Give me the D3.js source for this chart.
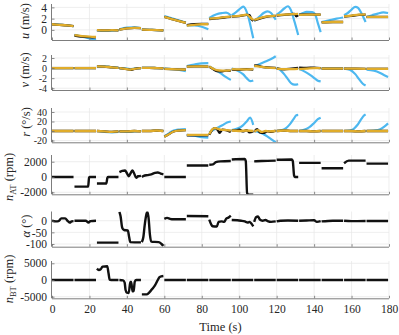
<!DOCTYPE html>
<html>
<head>
<meta charset="utf-8">
<script src="https://cdn.jsdelivr.net/npm/d3@7"></script>
<style>
  body { margin: 0; background: #fff; }
  svg { display: block; }
</style>
</head>
<body>
<div id="chart"></div>
<script>
// Six stacked time-series panels (u, v, r, n_AT, alpha, n_BT) over 0-180 s.
// Each series is a list of segments; each segment is a list of [time, value].

const timeTicks = [0, 20, 40, 60, 80, 100, 120, 140, 160, 180];

const uTicks = [0, 2, 4];
const vTicks = [-4, -2, 0, 2];
const rTicks = [-20, 0, 20, 40];
const nAtTicks = [-2000, 0, 2000];
const alphaTicks = [-100, -50, 0];
const nBtTicks = [-5000, 0, 5000];

// surge speed u (m/s)
const uBlue = [
  [[0,1.0],[4,0.95],[8,0.8],[11.5,0.65]],
  [[12,-0.9],[16,-1.2],[20,-1.5],[23.5,-1.8]],
  [[24,-0.1],[28,-0.2],[32,-0.15],[35.5,-0.05]],
  [[36,0.1],[40,0.4],[44,0.45],[47.5,0.3]],
  [[48,0.05],[52,0.0],[56,-0.05],[59.5,-0.1]],
  [[60,2.45],[64,2.05],[68,1.65],[71.5,1.3]],
  [[72,0.8],[76,0.8],[80,0.55],[83.5,0.1]],
  [[84,2.1],[86,2.5],[89,2.9],[91,3.0],[93,3.05],[95.5,2.6]],
  [[96,2.6],[98.5,3.2],[101,3.9],[102.2,4.15],[103.5,3.6],[105.5,1.5],[106.7,-0.3],[107.5,-1.5]],
  [[108,1.6],[111,2.4],[113,3.0],[115,3.3],[117,3.0],[118.5,2.3],[119.5,1.8]],
  [[120,2.7],[122,3.2],[124,3.8],[126,4.2],[127.5,3.6],[129.5,1.5],[131.5,-0.9]],
  [[132,2.7],[134,3.0],[136,3.2],[139,3.15],[140.5,2.8],[142,1.2],[143.5,-0.4]],
  [[144,1.4],[148,1.7],[152,2.0],[155.5,2.2]],
  [[156,2.6],[158,3.0],[160,3.6],[162,4.1],[163.5,3.9],[165.5,2.8],[167.5,1.4]],
  [[168,2.3],[171,2.6],[174,2.9],[177,3.1],[179.5,3.0]]
];
const uBlack = [
  [[0,1.0],[4,0.9],[8,0.8],[11.5,0.65]],
  [[12,-1.0],[16,-1.2],[20,-1.3],[23.5,-1.35]],
  [[24,-0.05],[28,-0.1],[32,-0.05],[35.5,-0.1]],
  [[36,0.05],[40,0.25],[44,0.35],[47.5,0.3]],
  [[48,0.05],[52,0.0],[56,-0.05],[59.5,-0.1]],
  [[60,2.3],[64,1.9],[68,1.55],[71.5,1.25]],
  [[72,0.85],[76,1.0],[80,1.05],[83.5,1.05]],
  [[84,1.9],[88,2.05],[92,2.2],[95.5,2.3]],
  [[96,2.35],[100,2.45],[104,2.65],[105.5,2.6],[106.5,1.9],[107.5,1.6]],
  [[108,1.7],[111,2.0],[115,2.35],[119.5,2.5]],
  [[120,2.55],[124,2.65],[128,2.8],[129.5,2.85],[130.5,2.4],[131.5,2.6]],
  [[132,2.7],[136,2.75],[143.5,2.7]],
  [[144,1.35],[150,1.4],[155.5,1.4]],
  [[156,2.35],[160,2.5],[164,2.65],[167.5,2.7]],
  [[168,2.3],[174,2.3],[179.5,2.3]]
];
const uYellow = [
  [[0,1.0],[4,0.9],[8,0.8],[11.5,0.65]],
  [[12,-0.95],[16,-1.1],[20,-1.2],[23.5,-1.25]],
  [[24,-0.05],[28,-0.1],[32,-0.05],[35.5,-0.1]],
  [[36,0.05],[40,0.25],[44,0.35],[47.5,0.3]],
  [[48,0.05],[52,0.0],[56,-0.05],[59.5,-0.1]],
  [[60,2.3],[64,1.9],[68,1.55],[71.5,1.25]],
  [[72,0.75],[76,0.9],[80,1.0],[83.5,1.0]],
  [[84,2.0],[88,2.1],[92,2.25],[95.5,2.35]],
  [[96,2.4],[100,2.5],[104,2.7],[106,2.2],[107.5,1.75]],
  [[108,1.75],[111,2.1],[115,2.4],[119.5,2.55]],
  [[120,2.6],[124,2.7],[128,2.8],[131.5,2.85]],
  [[132,2.65],[136,2.7],[140,2.7],[143.5,2.7]],
  [[144,1.35],[150,1.4],[155.5,1.4]],
  [[156,2.4],[160,2.55],[164,2.7],[167.5,2.75]],
  [[168,2.3],[174,2.3],[179.5,2.3]]
];

// sway speed v (m/s)
const vBlue = [
  [[0,0],[11.5,0]],
  [[12,0],[23.5,0]],
  [[24,0.3],[28,0.35],[32,0.2],[35.5,0.05]],
  [[36,0],[40,-0.1],[42,-0.2],[44,-0.1],[47.5,0]],
  [[48,0.05],[52,0.05],[56,0],[59.5,0]],
  [[60,-0.1],[64,-0.2],[68,-0.35],[71.5,-0.6]],
  [[72,0.4],[76,0.7],[80,0.95],[83.5,1.0]],
  [[84,0.3],[87,-0.3],[90,-1.0],[93,-1.8],[95.5,-2.35]],
  [[96,-0.1],[99,-0.5],[102,-1.2],[104,-2.0],[106,-2.6],[107.5,-2.45]],
  [[108,0.3],[111,0.8],[114,1.3],[117,1.8],[119.5,2.35]],
  [[120,0.0],[122,-0.4],[124,-1.2],[126,-2.2],[128,-3.1],[129.5,-3.3],[131.5,-3.2]],
  [[132,-0.2],[135,-0.7],[138,-1.4],[140.5,-2.1],[142,-2.5],[143.5,-2.65]],
  [[144,-0.1],[150,-0.1],[155.5,-0.1]],
  [[156,-0.1],[159,-0.3],[162,-1.2],[164,-2.2],[166,-3.1],[167.5,-3.45]],
  [[168,-0.3],[172,-0.5],[175,-0.9],[177.5,-1.4],[179.5,-1.75]]
];
const vBlack = [
  [[0,0],[11.5,0]],
  [[12,0],[23.5,0]],
  [[24,0.35],[28,0.3],[32,0.15],[35.5,0.05]],
  [[36,0],[40,-0.2],[42,-0.35],[44,-0.15],[47.5,0]],
  [[48,0.05],[52,0.05],[56,0],[59.5,-0.05]],
  [[60,-0.15],[64,-0.2],[68,-0.25],[71.5,-0.3]],
  [[72,0.3],[76,0.35],[80,0.35],[83.5,0.3]],
  [[84,0.3],[86,-0.2],[88,-0.6],[91,-0.65],[93,-0.5],[95.5,-0.55]],
  [[96,-0.3],[100,-0.35],[104,-0.2],[107.5,-0.3]],
  [[108,0.55],[110,0.5],[112,0.25],[115,0.15],[119.5,0.05]],
  [[120,-0.05],[124,-0.25],[128,-0.1],[131.5,0.05]],
  [[132,0.1],[136,0.05],[140,0.1],[143.5,0.0]],
  [[144,-0.1],[150,-0.1],[155.5,-0.1]],
  [[156,-0.1],[162,-0.1],[167.5,-0.15]],
  [[168,-0.15],[174,-0.15],[179.5,-0.15]]
];
const vYellow = [
  [[0,0],[11.5,0]],
  [[12,0],[23.5,0]],
  [[24,0.35],[28,0.3],[32,0.15],[35.5,0.05]],
  [[36,0],[40,-0.2],[42,-0.3],[44,-0.15],[47.5,0]],
  [[48,0.05],[52,0.05],[56,0],[59.5,-0.05]],
  [[60,-0.15],[64,-0.2],[68,-0.25],[71.5,-0.3]],
  [[72,0.3],[76,0.35],[80,0.35],[83.5,0.3]],
  [[84,0.3],[86,-0.1],[88,-0.4],[91,-0.5],[95.5,-0.45]],
  [[96,-0.2],[100,-0.25],[104,-0.25],[107.5,-0.2]],
  [[108,0.45],[111,0.3],[115,0.1],[119.5,0.0]],
  [[120,-0.1],[124,-0.2],[128,-0.2],[131.5,-0.15]],
  [[132,-0.2],[136,-0.1],[140,0],[143.5,0]],
  [[144,-0.1],[150,-0.1],[155.5,-0.1]],
  [[156,-0.1],[162,-0.1],[167.5,-0.15]],
  [[168,-0.15],[174,-0.15],[179.5,-0.15]]
];

// yaw rate r (deg/s)
const rBlue = [
  [[0,0],[11.5,0]],
  [[12,0],[23.5,0]],
  [[24,0],[28,-2],[32,-3],[35.5,-2]],
  [[36,-1],[40,-2],[44,-1],[47.5,0]],
  [[48,0],[52,0],[56,1],[59.5,0]],
  [[60,-11],[62,-6],[65,1],[68,3],[71.5,4]],
  [[72,-8],[76,-10],[80,-13],[83.5,-14]],
  [[84,-4],[86,2],[88,6],[91,12],[93.5,18],[95.5,20]],
  [[96,2],[99,5],[102,12],[104,20],[105.8,28],[107.5,13]],
  [[108,0],[111,-3],[114,-9],[117,-17],[119.5,-24]],
  [[120,0],[123,2],[125,6],[127,14],[129,25],[130.5,33],[131.5,34]],
  [[132,0],[135,3],[137.5,8],[140,17],[142,25],[143.5,28]],
  [[144,0],[155.5,0]],
  [[156,0],[159,1],[161,4],[163,12],[165,24],[166.5,32],[167.5,35]],
  [[168,0],[172,1],[175,3],[177.5,9],[179.5,16]]
];
const rBlack = [
  [[0,0],[11.5,0]],
  [[12,0],[23.5,0]],
  [[24,0],[28,-1],[32,-2],[35.5,-1]],
  [[36,-1],[40,-1],[44,0],[47.5,-1]],
  [[48,0],[52,0],[56,1],[59.5,0]],
  [[60,-12],[62,-8],[65,-1],[68,1],[71.5,2]],
  [[72,-9],[76,-9],[80,-9],[83.5,-9]],
  [[84,-8],[85.5,2],[87,6],[88.5,2],[89.5,-4],[91,3],[93,2],[95.5,-2]],
  [[96,2],[98,1],[100,3],[102,-1],[104,2],[105.5,-3],[107.5,-1]],
  [[108,-2],[109.5,4],[111,-3],[113,-4],[115,-1],[117,-2],[119.5,1]],
  [[120,0],[124,1],[128,0],[131.5,0]],
  [[132,0],[136,0],[140,-1],[143.5,0]],
  [[144,0],[155.5,0]],
  [[156,0],[160,0],[164,-1],[167.5,0]],
  [[168,0],[179.5,0]]
];
const rYellow = [
  [[0,0],[11.5,0]],
  [[12,0],[23.5,0]],
  [[24,0],[28,-1],[32,-2],[35.5,-1]],
  [[36,-1],[40,-1],[44,0],[47.5,-1]],
  [[48,0],[52,0],[56,1],[59.5,0]],
  [[60,-12],[62,-8],[65,-1],[68,1],[71.5,2]],
  [[72,-8],[76,-8],[80,-8],[83.5,-8]],
  [[84,-7],[85.5,3],[87,6],[90,3],[93,2],[95.5,1]],
  [[96,1],[100,0],[104,1],[107.5,0]],
  [[108,-1],[110,2],[112,-2],[114,0],[116,-1],[119.5,0]],
  [[120,0],[124,1],[128,0],[131.5,0]],
  [[132,0],[136,0],[140,-1],[143.5,0]],
  [[144,0],[155.5,0]],
  [[156,0],[160,0],[164,-1],[167.5,0]],
  [[168,0],[179.5,0]]
];

// aft thruster speed n_AT (rpm)
const nAt = [
  [[0,0],[11.5,0]],
  [[12,-1250],[19.3,-1250],[19.8,-100],[20.2,0],[23.5,0]],
  [[24,-850],[29,-850],[29.6,-100],[30,0],[35.5,0]],
  [[36,650],[37.5,800],[39,850],[40,500],[41,100],[42,500],[43,850],[44,400],[45,-100],[46,100],[47.5,150]],
  [[48,0],[49,150],[51,250],[53,350],[55,550],[56.5,600],[58,450],[59.5,350]],
  [[60,0],[71.5,0]],
  [[72,1500],[83.5,1500]],
  [[84,1600],[86,1650],[87.5,1950],[90,2050],[95.5,2100]],
  [[96,2300],[103,2350],[103.5,2100],[104.2,-2100],[105,-2300],[107.5,-2300]],
  [[108,2050],[112,2100],[119.5,2150]],
  [[120,2250],[128,2300],[128.6,2100],[129.3,200],[129.7,0],[131.5,0]],
  [[132,1850],[143.5,1850]],
  [[144,1150],[155.5,1150]],
  [[156,1800],[158.5,2150],[167.5,2150]],
  [[168,1750],[179.5,1750]]
];

// aft thruster angle alpha (deg)
const alpha = [
  [[0,0],[2,-3],[3.5,-2],[5,10],[7,10],[8.5,-2],[9.5,-8],[10.5,-3],[11.5,-2]],
  [[12,0],[18,0],[19.5,-8],[20.5,-2],[23.5,0]],
  [[24,-94],[35.5,-94]],
  [[36,38],[36.6,20],[37.5,-30],[38.5,-40],[40.5,-42],[41.2,-70],[41.8,-92],[47.5,-93]],
  [[48,-92],[48.8,-70],[49.5,-20],[50.5,30],[51,38],[51.6,10],[52.3,-60],[53,-90],[57,-92],[58.5,-100],[59.5,-108]],
  [[60,8],[61.5,12],[63,8],[65,6],[71.5,6]],
  [[72,20],[83.5,19]],
  [[84,5],[85,-15],[85.8,-24],[88,-25],[89,-5],[90.5,-3],[92,-5],[93,8],[94.5,15],[95.5,22]],
  [[96,3],[99,2],[101,0],[103,-3],[104.5,-8],[105.5,-5],[106.5,-12],[107.5,-24]],
  [[108,-5],[109,15],[110,18],[111,5],[112.5,0],[114,3],[115.5,-3],[117,-5],[119.5,-3]],
  [[120,-3],[122,0],[126,1],[131.5,0]],
  [[132,0],[136,1],[140,2],[141.5,-5],[143.5,-2]],
  [[144,-3],[150,0],[155.5,0]],
  [[156,0],[160,-2],[167.5,-1]],
  [[168,-1],[179.5,-1]]
];

// bow thruster speed n_BT (rpm)
const nBt = [
  [[0,0],[11.5,0]],
  [[12,0],[23.5,0]],
  [[24,3400],[25,3000],[26,3200],[27,4000],[29.5,4100],[30.2,2000],[30.8,100],[31.5,0],[35.5,0]],
  [[36,0],[38,-100],[38.8,-800],[39.3,-3000],[40,-3800],[41,-3900],[41.8,-600],[42.3,-600],[43,-3400],[43.6,-3300],[44.2,-500],[45,0],[47.5,0]],
  [[48,-4300],[50.5,-4300],[52,-3700],[53.5,-2700],[55,-1600],[56.5,0],[57.5,900],[59.5,1200]],
  [[60,0],[71.5,0]],
  [[72,0],[83.5,0]],
  [[84,0],[95.5,0]],
  [[96,0],[107.5,0]],
  [[108,0],[119.5,0]],
  [[120,0],[131.5,0]],
  [[132,0],[143.5,0]],
  [[144,0],[155.5,0]],
  [[156,0],[167.5,0]],
  [[168,0],[179.5,0]]
];

const BLUE = '#4db8f0';
const BLACK = '#111111';
const YELLOW = '#e0ac2a';

const W = 399, H = 335;
const xLeft = 52, xRight = 389;
const font = "'Liberation Serif', 'DejaVu Serif', serif";

const x = d3.scaleLinear().domain([0, 180]).range([xLeft, xRight]);

const panels = [
  { id: 'u', top: 4, bottom: 40, domain: [-1.8, 4.6], ticks: uTicks, tickFont: 11.5,
    series: [[uBlue, BLUE, 2.2], [uBlack, BLACK, 2.3], [uYellow, YELLOW, 2.3]],
    label: [{ t: 'u', it: true }, { t: ' (m/s)' }], labelX: 29, labelY: 21 },
  { id: 'v', top: 55, bottom: 90, domain: [-4.35, 2.6], ticks: vTicks, tickFont: 10,
    series: [[vBlue, BLUE, 2.2], [vBlack, BLACK, 2.3], [vYellow, YELLOW, 2.3]],
    label: [{ t: 'v', it: true }, { t: ' (m/s)' }], labelX: 29, labelY: 70 },
  { id: 'r', top: 108, bottom: 142.3, domain: [-23.8, 48.4], ticks: rTicks, tickFont: 10,
    series: [[rBlue, BLUE, 2.2], [rBlack, BLACK, 2.3], [rYellow, YELLOW, 2.3]],
    label: [{ t: 'r', it: true }, { t: ' (°/s)' }], labelX: 30, labelY: 122 },
  { id: 'nat', top: 155, bottom: 194.3, domain: [-2260, 2880], ticks: nAtTicks, tickFont: 11.5,
    series: [[nAt, BLACK, 2.4]],
    label: [{ t: 'n', it: true }, { t: 'AT', sub: true }, { t: ' (rpm)', unsub: true }], labelX: 13, labelY: 177 },
  { id: 'alpha', top: 211.5, bottom: 246.7, domain: [-111.6, 39.5], ticks: alphaTicks, tickFont: 11.5,
    series: [[alpha, BLACK, 2.4]],
    label: [{ t: 'α', it: true }, { t: ' (°)' }], labelX: 30, labelY: 226 },
  { id: 'nbt', top: 261, bottom: 298.3, domain: [-5480, 5690], ticks: nBtTicks, tickFont: 11.5,
    series: [[nBt, BLACK, 2.4]],
    label: [{ t: 'n', it: true }, { t: 'BT', sub: true }, { t: ' (rpm)', unsub: true }], labelX: 13, labelY: 279 }
];

const svg = d3.select('#chart').append('svg')
  .attr('width', W).attr('height', H)
  .attr('font-family', font);

const defs = svg.append('defs');

panels.forEach((p, i) => {
  const y = d3.scaleLinear().domain(p.domain).range([p.bottom, p.top]);
  const g = svg.append('g').attr('class', 'panel-' + p.id);

  // grid
  const grid = g.append('g').attr('class', 'grid');
  timeTicks.slice(1).forEach(t => {
    grid.append('line')
      .attr('x1', x(t)).attr('x2', x(t))
      .attr('y1', p.top).attr('y2', p.bottom)
      .attr('stroke', '#e6e6e6').attr('stroke-width', 0.7);
  });
  p.ticks.forEach(v => {
    grid.append('line')
      .attr('x1', xLeft).attr('x2', xRight)
      .attr('y1', y(v)).attr('y2', y(v))
      .attr('stroke', '#e6e6e6').attr('stroke-width', 0.7);
  });

  // data, clipped to the panel
  defs.append('clipPath').attr('id', 'clip-' + p.id)
    .append('rect')
    .attr('x', xLeft).attr('y', p.top)
    .attr('width', xRight - xLeft).attr('height', p.bottom - p.top);

  const line = d3.line()
    .x(d => x(d[0]))
    .y(d => y(d[1]))
    .curve(d3.curveMonotoneX);

  const dataG = g.append('g').attr('clip-path', 'url(#clip-' + p.id + ')');
  p.series.forEach(([segs, color, w]) => {
    dataG.selectAll(null)
      .data(segs)
      .enter().append('path')
      .attr('d', line)
      .attr('fill', 'none')
      .attr('stroke', color)
      .attr('stroke-width', w)
      .attr('stroke-linejoin', 'round');
  });

  // axes
  const yAxis = d3.axisLeft(y).tickValues(p.ticks).tickSize(-2.5).tickPadding(5)
    .tickFormat(d => String(d));
  const ya = g.append('g').attr('transform', `translate(${xLeft},0)`).call(yAxis);
  ya.select('.domain').attr('d', `M-0.5,${p.top}V${p.bottom}`);

  const isLast = i === panels.length - 1;
  const xAxis = d3.axisBottom(x).tickValues(timeTicks).tickSize(-2.5).tickPadding(7)
    .tickFormat(isLast ? (d => String(d)) : () => '');
  const xa = g.append('g').attr('transform', `translate(0,${p.bottom})`).call(xAxis);
  xa.select('.domain').attr('d', `M${xLeft},0.5H${xRight}`);

  [ya, xa].forEach(a => {
    a.select('.domain').attr('stroke', '#6e6e6e').attr('stroke-width', 0.9);
    a.selectAll('.tick line').attr('stroke', '#6e6e6e').attr('stroke-width', 0.8);
    a.selectAll('.tick text')
      .attr('fill', '#262626')
      .attr('font-family', font)
      .attr('font-size', 11.5);
  });
  ya.selectAll('.tick text').attr('font-size', p.tickFont);

  // y label
  const lbl = svg.append('text')
    .attr('transform', `translate(${p.labelX},${p.labelY}) rotate(-90)`)
    .attr('text-anchor', 'middle')
    .attr('font-size', 12.5)
    .attr('fill', '#262626');
  p.label.forEach(part => {
    const ts = lbl.append('tspan').text(part.t);
    if (part.it) ts.attr('font-style', 'italic');
    if (part.sub) ts.attr('font-size', 8.5).attr('dy', 3);
    if (part.unsub) ts.attr('dy', -3);
  });
});

svg.append('text')
  .attr('x', (xLeft + xRight) / 2)
  .attr('y', 331)
  .attr('text-anchor', 'middle')
  .attr('font-size', 12.5)
  .attr('fill', '#262626')
  .text('Time (s)');
</script>
</body>
</html>
